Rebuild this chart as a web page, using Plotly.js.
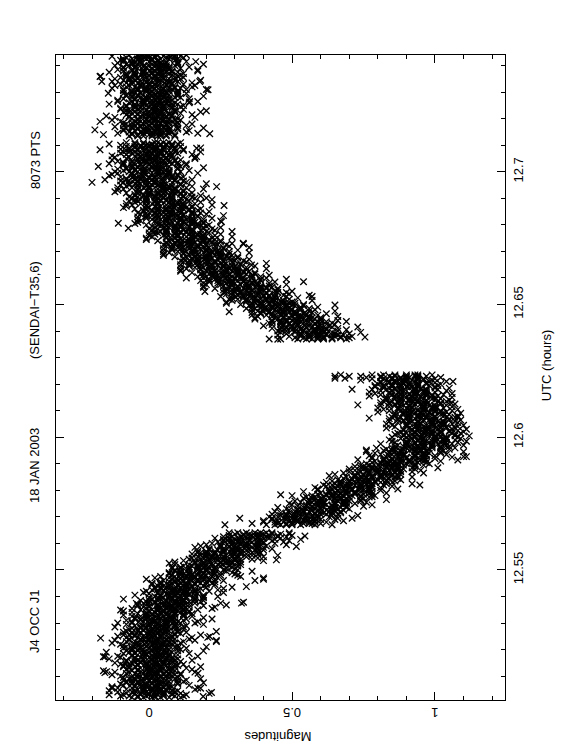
<!DOCTYPE html>
<html>
<head>
<meta charset="utf-8">
<script src="https://cdn.plot.ly/plotly-3.0.1.min.js"></script>
<style>html,body{margin:0;padding:0;background:#fff;}#chart{width:562px;height:756px;}</style>
</head>
<body>
<div id="chart"></div>
<script>
// Each row: [UTC (hours), magnitude, magnitude, ...]
const lowerRows = [
[12.502,-0.06,0.02,0.07,-0.02,0.11,-0.04,0.01,0.04],
[12.503,0.03,-0.09,0.00,0.08,-0.03,0.05,-0.14,0.13],
[12.504,-0.02,0.05,-0.11,0.03,0.09,-0.06,0.02,-0.01],
[12.505,0.06,-0.04,0.01,-0.08,0.04,0.16,-0.02,0.00],
[12.506,-0.05,0.08,-0.01,0.03,-0.13,0.05,0.02,-0.03],
[12.507,0.01,-0.06,0.10,-0.03,0.06,-0.01,-0.10,0.04],
[12.508,-0.08,0.04,0.00,0.07,-0.04,0.12,0.02,-0.02],
[12.509,0.05,-0.02,-0.07,0.02,0.09,-0.05,0.03,0.18],
[12.510,-0.03,0.06,0.01,-0.10,0.04,-0.01,0.08,0.00],
[12.511,0.02,-0.05,0.07,0.03,-0.08,0.11,-0.02,0.05],
[12.512,-0.16,0.01,0.04,-0.04,0.06,0.00,0.09,-0.06],
[12.513,0.04,-0.07,-0.01,0.08,0.02,-0.03,0.13,0.01],
[12.514,-0.01,0.06,-0.09,0.03,-0.04,0.07,0.00,0.10],
[12.515,0.07,-0.03,0.02,-0.06,0.05,-0.12,0.03,-0.01],
[12.516,-0.04,0.09,0.01,-0.02,0.04,0.06,-0.08,0.15],
[12.517,0.00,-0.05,0.06,0.02,-0.10,0.03,0.08,-0.03],
[12.518,0.05,-0.01,-0.06,0.10,0.01,-0.04,0.04,0.02],
[12.519,-0.07,0.03,0.08,-0.02,0.05,-0.15,0.00,0.06],
[12.520,0.02,-0.04,0.04,0.07,-0.06,0.01,0.11,-0.02],
[12.521,-0.03,0.06,-0.08,0.02,0.09,-0.01,0.04,0.20],
[12.522,0.04,-0.10,0.01,0.05,-0.03,0.08,-0.05,0.02],
[12.523,-0.05,0.02,0.07,-0.01,0.03,0.12,-0.08,0.05],
[12.524,0.06,-0.03,0.00,-0.07,0.09,0.03,-0.02,0.14],
[12.525,-0.02,0.08,-0.05,0.04,0.01,-0.11,0.06,0.02],
[12.526,0.03,-0.06,0.09,0.00,-0.03,0.05,0.11,-0.01],
[12.527,-0.08,0.05,0.02,0.07,-0.04,0.01,0.04,0.10],
[12.528,0.01,-0.03,0.06,-0.06,0.10,0.03,-0.01,0.05],
[12.529,-0.05,0.04,0.09,0.00,0.13,-0.02,0.03,0.06],
[12.530,0.06,-0.06,0.03,0.11,0.00,0.08,-0.11,0.16],
[12.531,0.01,0.08,-0.08,0.06,0.12,-0.03,0.05,0.02],
[12.532,0.09,-0.01,0.04,-0.05,0.07,0.19,0.01,0.03],
[12.533,-0.01,0.12,0.03,0.07,-0.09,0.09,0.06,0.01],
[12.534,0.05,-0.01,0.14,0.02,0.11,0.04,-0.06,0.09],
[12.535,-0.03,0.09,0.05,0.12,0.01,0.17,0.07,0.03],
[12.536,0.10,0.03,-0.02,0.07,0.14,0.00,0.08,0.23],
[12.537,0.03,0.12,0.07,-0.04,0.10,0.05,0.14,0.06],
[12.538,0.09,0.02,0.14,0.10,-0.01,0.18,0.05,0.12],
[12.539,-0.09,0.08,0.12,0.04,0.11,0.07,0.16,0.01],
[12.540,0.11,0.04,0.09,0.19,0.02,0.07,0.13,0.24],
[12.541,0.06,0.13,0.00,0.10,0.17,0.03,0.09,0.14],
[12.542,0.12,0.05,0.16,-0.01,0.09,0.21,0.08,0.11],
[12.543,0.04,0.14,0.09,0.18,0.02,0.11,0.07,0.26],
[12.544,0.15,0.07,0.12,0.03,0.19,0.10,0.05,0.13],
[12.545,0.08,0.18,0.04,0.13,0.22,0.11,0.16,0.01],
[12.546,0.17,0.09,0.21,0.12,0.05,0.15,0.26,0.10],
[12.547,0.07,0.16,0.11,0.24,0.13,0.19,0.02,0.15],
[12.548,0.11,0.20,0.15,0.25,0.08,0.17,0.13,0.31],
[12.549,0.07,0.19,0.23,0.14,0.29,0.11,0.25,0.17],
[12.550,0.18,0.26,0.14,0.31,0.17,0.09,0.23,0.20],
[12.551,0.23,0.14,0.19,0.11,0.29,0.17,0.21,0.08],
[12.552,0.28,0.19,0.14,0.24,0.09,0.26,0.32,0.17],
[12.553,0.19,0.28,0.32,0.16,0.25,0.09,0.21,0.29],
[12.554,0.14,0.26,0.30,0.21,0.36,0.18,0.32,0.24],
[12.555,0.20,0.29,0.24,0.34,0.17,0.26,0.22,0.40],
[12.556,0.34,0.25,0.20,0.30,0.15,0.32,0.38,0.23],
[12.557,0.32,0.23,0.28,0.20,0.38,0.26,0.30,0.17],
[12.558,0.30,0.38,0.26,0.43,0.29,0.21,0.35,0.32],
[12.559,0.28,0.37,0.41,0.25,0.34,0.18,0.30,0.38],
[12.560,0.22,0.34,0.38,0.29,0.44,0.26,0.40,0.32],
[12.561,0.29,0.38,0.33,0.43,0.26,0.35,0.31,0.49],
[12.562,0.42,0.33,0.28,0.38,0.23,0.40,0.46,0.31],
[12.563,0.37,0.45,0.33,0.50,0.36,0.28,0.42,0.39],
[12.564,0.43,0.34,0.39,0.31,0.49,0.37,0.41,0.28],
[12.567,0.44,0.53,0.48,0.58,0.41,0.50,0.46,0.64],
[12.568,0.40,0.52,0.56,0.47,0.62,0.44,0.58,0.50],
[12.569,0.52,0.60,0.48,0.65,0.51,0.43,0.57,0.54],
[12.570,0.57,0.48,0.53,0.45,0.63,0.51,0.55,0.42],
[12.571,0.62,0.53,0.48,0.58,0.43,0.60,0.66,0.51],
[12.572,0.54,0.63,0.67,0.51,0.60,0.44,0.56,0.64],
[12.573,0.48,0.60,0.64,0.55,0.70,0.52,0.66,0.58],
[12.574,0.55,0.64,0.59,0.69,0.52,0.61,0.57,0.75],
[12.575,0.59,0.68,0.72,0.56,0.65,0.49,0.61,0.69],
[12.576,0.70,0.61,0.56,0.66,0.51,0.68,0.74,0.59],
[12.577,0.69,0.60,0.65,0.57,0.75,0.63,0.67,0.54],
[12.578,0.66,0.74,0.62,0.79,0.65,0.57,0.71,0.68],
[12.579,0.63,0.72,0.67,0.77,0.60,0.69,0.65,0.83],
[12.580,0.59,0.71,0.75,0.66,0.81,0.63,0.77,0.69],
[12.581,0.68,0.77,0.81,0.65,0.74,0.58,0.70,0.78],
[12.582,0.76,0.67,0.72,0.64,0.82,0.70,0.74,0.61],
[12.583,0.81,0.72,0.67,0.77,0.62,0.79,0.85,0.70],
[12.584,0.75,0.83,0.71,0.88,0.74,0.66,0.80,0.77],
[12.585,0.72,0.81,0.76,0.86,0.69,0.78,0.74,0.92],
[12.586,0.75,0.84,0.88,0.72,0.81,0.65,0.77,0.85],
[12.587,0.70,0.82,0.86,0.77,0.92,0.74,0.88,0.80],
[12.588,0.89,0.80,0.75,0.85,0.70,0.87,0.93,0.78],
[12.589,0.87,0.78,0.83,0.75,0.93,0.81,0.85,0.72],
[12.590,0.85,0.93,0.81,0.98,0.84,0.76,0.90,0.87],
[12.591,0.82,0.91,0.86,0.96,0.79,0.88,0.84,1.02],
[12.592,0.78,0.90,0.94,0.85,1.00,0.82,0.96,0.88],
[12.593,0.87,0.96,1.00,0.84,0.93,0.77,0.89,0.97],
[12.594,0.98,0.89,0.84,0.94,0.79,0.96,1.02,0.87],
[12.595,0.97,0.88,0.93,0.85,1.03,0.91,0.95,0.82],
[12.596,0.94,1.02,0.90,1.07,0.93,0.85,0.99,0.96],
[12.597,0.90,0.99,0.94,1.04,0.87,0.96,0.92,1.10],
[12.598,0.86,0.98,1.02,0.93,1.08,0.90,1.04,0.96],
[12.599,0.94,1.03,1.07,0.91,1.00,0.84,0.96,1.04],
[12.600,1.04,0.95,0.90,1.00,0.85,1.02,1.08,0.93],
[12.601,1.01,0.92,0.97,0.89,1.07,0.95,0.99,0.86],
[12.602,0.97,1.05,0.93,1.10,0.96,0.88,1.02,0.99],
[12.603,0.92,1.01,0.96,1.06,0.89,0.98,0.94,1.11],
[12.604,0.86,0.98,1.02,0.93,1.08,0.90,1.04,0.96],
[12.605,0.93,1.02,1.06,0.90,0.99,0.83,0.95,1.03],
[12.606,1.03,0.94,0.89,0.99,0.84,1.01,1.07,0.92],
[12.607,0.99,0.90,0.95,0.87,1.05,0.93,0.97,0.84],
[12.608,0.95,1.03,0.91,1.08,0.94,0.86,1.00,0.97],
[12.609,0.89,0.98,0.93,1.03,0.86,0.95,0.91,1.09],
[12.610,0.84,0.96,1.00,0.91,1.06,0.88,1.02,0.94],
[12.611,0.90,0.99,1.03,0.87,0.96,0.80,0.92,1.00],
[12.612,1.00,0.91,0.86,0.96,0.81,0.98,1.04,0.89],
[12.613,0.96,0.87,0.92,0.84,1.02,0.90,0.94,0.81],
[12.614,0.92,1.00,0.88,1.05,0.91,0.83,0.97,0.94],
[12.615,0.86,0.95,0.90,1.00,0.83,0.92,0.88,1.06],
[12.616,0.81,0.93,0.97,0.88,1.03,0.85,0.99,0.91],
[12.617,0.87,0.96,1.00,0.84,0.93,0.77,0.89,0.97],
[12.618,0.97,0.88,0.83,0.93,0.78,0.95,1.01,0.86],
[12.619,0.94,0.85,0.90,0.82,1.00,0.88,0.92,0.79],
[12.620,0.89,0.97,0.85,1.02,0.88,0.80,0.94,0.91],
[12.621,0.84,0.93,0.88,0.98,0.81,0.90,0.86,1.04],
[12.622,0.78,0.90,0.94,0.85,1.00,0.82,0.96,0.88],
[12.623,0.84,0.93,0.97,0.81,0.90,0.74,0.86,0.94,0.65,0.70]
];

const lowerRowsB = [
[12.5025,0.02,-0.07,0.05,-0.01,0.09,-0.04,0.12,-0.10],
[12.5035,0.05,-0.03,0.08,-0.08,0.02,0.11,-0.05,0.00],
[12.5045,0.08,-0.05,0.01,0.04,-0.14,0.06,-0.02,0.10],
[12.5055,-0.06,0.03,-0.02,0.07,-0.11,0.01,0.04,0.17],
[12.5065,-0.01,0.06,-0.09,0.03,0.07,-0.05,0.14,-0.02],
[12.5075,-0.04,0.10,-0.06,0.01,0.05,-0.08,0.03,0.19],
[12.5085,0.03,-0.06,0.06,0.00,0.10,-0.03,0.13,-0.09],
[12.5095,0.04,-0.04,0.07,-0.09,0.01,0.10,-0.06,-0.01],
[12.5105,0.09,-0.04,0.02,0.05,-0.13,0.07,-0.01,0.11],
[12.5115,-0.07,0.02,-0.03,0.06,-0.12,0.00,0.03,0.16],
[12.5125,0.00,0.07,-0.08,0.04,0.08,-0.04,0.15,-0.01],
[12.5135,-0.05,0.09,-0.07,0.00,0.04,-0.09,0.02,0.18],
[12.5145,0.02,-0.07,0.05,-0.01,0.09,-0.04,0.12,-0.10],
[12.5155,0.05,-0.03,0.08,-0.08,0.02,0.11,-0.05,0.00],
[12.5165,0.08,-0.05,0.01,0.04,-0.14,0.06,-0.02,0.10],
[12.5175,-0.06,0.03,-0.02,0.07,-0.11,0.01,0.04,0.17],
[12.5185,-0.01,0.06,-0.09,0.03,0.07,-0.05,0.14,-0.02],
[12.5195,-0.04,0.10,-0.06,0.01,0.05,-0.08,0.03,0.19],
[12.5205,0.03,-0.06,0.06,0.00,0.10,-0.03,0.13,-0.09],
[12.5215,0.04,-0.04,0.07,-0.09,0.01,0.10,-0.06,-0.01],
[12.5225,0.09,-0.04,0.02,0.05,-0.13,0.07,-0.01,0.11],
[12.5235,-0.07,0.02,-0.03,0.06,-0.12,0.00,0.03,0.16],
[12.5245,0.00,0.07,-0.08,0.04,0.08,-0.04,0.15,-0.01],
[12.5255,-0.05,0.09,-0.07,0.00,0.04,-0.09,0.02,0.18],
[12.5265,0.03,-0.06,0.06,0.00,0.10,-0.03,0.13,-0.09],
[12.5275,0.06,-0.02,0.09,-0.07,0.03,0.12,-0.04,0.01],
[12.5285,0.09,-0.03,0.02,0.05,-0.12,0.07,-0.01,0.12],
[12.5295,-0.03,0.05,0.00,0.09,-0.08,0.03,0.06,0.19],
[12.5305,0.02,0.09,-0.06,0.06,0.10,-0.02,0.17,0.01],
[12.5315,-0.01,0.13,-0.03,0.04,0.08,-0.05,0.06,0.22],
[12.5325,0.05,-0.03,0.08,0.02,0.12,-0.01,0.15,-0.06],
[12.5335,0.09,0.01,0.12,-0.04,0.06,0.15,-0.01,0.04],
[12.5345,0.12,0.00,0.05,0.08,-0.09,0.10,0.03,0.14],
[12.5355,-0.01,0.08,0.03,0.12,-0.06,0.06,0.09,0.22],
[12.5365,0.05,0.11,-0.04,0.08,0.12,0.00,0.19,0.03],
[12.5375,0.02,0.16,0.00,0.07,0.11,-0.02,0.09,0.25],
[12.5385,0.09,0.00,0.12,0.06,0.16,0.03,0.19,-0.03],
[12.5395,0.13,0.05,0.16,0.00,0.10,0.19,0.03,0.08],
[12.5405,0.16,0.04,0.09,0.12,-0.05,0.14,0.07,0.19],
[12.5415,0.03,0.12,0.07,0.16,-0.02,0.10,0.13,0.26],
[12.5425,0.09,0.16,0.01,0.13,0.17,0.05,0.24,0.08],
[12.5435,0.06,0.20,0.04,0.11,0.15,0.02,0.13,0.29],
[12.5445,0.13,0.04,0.16,0.10,0.20,0.07,0.23,0.01],
[12.5455,0.17,0.09,0.20,0.04,0.14,0.23,0.07,0.12],
[12.5465,0.21,0.08,0.14,0.17,-0.01,0.19,0.11,0.23],
[12.5475,0.09,0.18,0.13,0.22,0.04,0.16,0.19,0.32],
[12.5485,0.15,0.22,0.07,0.19,0.23,0.11,0.30,0.14],
[12.5495,0.13,0.27,0.11,0.18,0.22,0.09,0.20,0.36],
[12.5505,0.20,0.11,0.23,0.17,0.27,0.14,0.30,0.08],
[12.5515,0.25,0.17,0.28,0.12,0.22,0.31,0.15,0.20],
[12.5525,0.29,0.16,0.22,0.25,0.07,0.27,0.19,0.31],
[12.5535,0.17,0.26,0.21,0.30,0.12,0.24,0.27,0.40],
[12.5545,0.23,0.30,0.15,0.27,0.31,0.19,0.38,0.22],
[12.5555,0.22,0.36,0.20,0.27,0.31,0.18,0.29,0.45],
[12.5565,0.29,0.20,0.32,0.26,0.36,0.23,0.39,0.17],
[12.5575,0.34,0.26,0.37,0.21,0.31,0.40,0.24,0.29],
[12.5585,0.38,0.25,0.31,0.34,0.16,0.36,0.28,0.40],
[12.5595,0.25,0.34,0.29,0.38,0.20,0.32,0.35,0.48],
[12.5605,0.32,0.39,0.24,0.36,0.40,0.28,0.47,0.31],
[12.5615,0.30,0.44,0.28,0.35,0.39,0.26,0.37,0.53],
[12.5625,0.38,0.29,0.41,0.35,0.45,0.32,0.48,0.26],
[12.5635,0.43,0.35,0.46,0.30,0.40,0.49,0.33,0.38],
[12.5675,0.57,0.45,0.50,0.54,0.36,0.56,0.48,0.60],
[12.5685,0.45,0.54,0.49,0.58,0.40,0.52,0.55,0.68],
[12.5695,0.51,0.58,0.43,0.55,0.59,0.47,0.66,0.50],
[12.5705,0.50,0.64,0.48,0.55,0.59,0.46,0.57,0.73],
[12.5715,0.58,0.49,0.61,0.54,0.64,0.52,0.67,0.46],
[12.5725,0.62,0.54,0.65,0.49,0.59,0.68,0.52,0.57],
[12.5735,0.67,0.54,0.60,0.63,0.45,0.65,0.57,0.69],
[12.5745,0.55,0.64,0.59,0.68,0.50,0.62,0.65,0.78],
[12.5755,0.61,0.68,0.53,0.65,0.69,0.57,0.76,0.60],
[12.5765,0.60,0.74,0.58,0.65,0.69,0.56,0.67,0.83],
[12.5775,0.67,0.58,0.70,0.64,0.74,0.61,0.77,0.55],
[12.5785,0.72,0.64,0.75,0.59,0.69,0.78,0.62,0.67],
[12.5795,0.76,0.63,0.69,0.72,0.54,0.74,0.66,0.78],
[12.5805,0.64,0.73,0.68,0.77,0.59,0.71,0.74,0.87],
[12.5815,0.70,0.77,0.62,0.74,0.78,0.66,0.85,0.69],
[12.5825,0.69,0.83,0.67,0.74,0.78,0.65,0.76,0.92],
[12.5835,0.76,0.67,0.79,0.73,0.83,0.70,0.86,0.64],
[12.5845,0.81,0.73,0.84,0.68,0.78,0.87,0.71,0.76],
[12.5855,0.85,0.72,0.78,0.81,0.63,0.83,0.75,0.87],
[12.5865,0.73,0.82,0.77,0.86,0.68,0.80,0.83,0.96],
[12.5875,0.80,0.87,0.72,0.84,0.88,0.76,0.95,0.79],
[12.5885,0.78,0.92,0.76,0.83,0.87,0.74,0.85,1.01],
[12.5895,0.86,0.77,0.89,0.83,0.93,0.80,0.96,0.74],
[12.5905,0.91,0.83,0.94,0.78,0.88,0.97,0.81,0.86],
[12.5915,0.95,0.82,0.88,0.91,0.73,0.93,0.85,0.97],
[12.5925,0.83,0.92,0.87,0.96,0.78,0.90,0.93,1.06],
[12.5935,0.89,0.96,0.81,0.93,0.97,0.85,1.04,0.88],
[12.5945,0.88,1.02,0.86,0.93,0.97,0.84,0.95,1.10],
[12.5955,0.95,0.86,0.98,0.92,1.02,0.89,1.05,0.83],
[12.5965,0.99,0.91,1.02,0.86,0.96,1.05,0.89,0.94],
[12.5975,1.03,0.90,0.96,0.99,0.81,1.01,0.93,1.06],
[12.5985,0.90,0.99,0.94,1.03,0.85,0.97,1.00,1.11],
[12.5995,0.96,1.03,0.88,1.00,1.04,0.92,1.09,0.95],
[12.6005,0.93,1.07,0.91,0.98,1.02,0.89,1.00,1.12],
[12.6015,0.99,0.90,1.02,0.96,1.06,0.93,1.09,0.87],
[12.6025,1.02,0.94,1.05,0.89,0.99,1.08,0.92,0.97],
[12.6035,1.04,0.91,0.97,1.00,0.83,1.02,0.94,1.07],
[12.6045,0.90,0.99,0.94,1.03,0.85,0.97,1.00,1.10],
[12.6055,0.95,1.02,0.87,0.99,1.03,0.91,1.08,0.94],
[12.6065,0.91,1.05,0.89,0.96,1.00,0.87,0.98,1.09],
[12.6075,0.97,0.88,1.00,0.94,1.04,0.91,1.07,0.85],
[12.6085,0.99,0.91,1.02,0.86,0.96,1.05,0.89,0.94],
[12.6095,1.02,0.89,0.95,0.98,0.80,1.00,0.92,1.04],
[12.6105,0.87,0.96,0.91,1.00,0.82,0.94,0.97,1.08],
[12.6115,0.92,0.99,0.84,0.96,1.00,0.88,1.06,0.91],
[12.6125,0.88,1.02,0.86,0.93,0.97,0.84,0.95,1.07],
[12.6135,0.94,0.85,0.97,0.91,1.01,0.88,1.04,0.82],
[12.6145,0.96,0.88,0.99,0.83,0.93,1.02,0.86,0.91],
[12.6155,0.99,0.86,0.92,0.95,0.77,0.97,0.89,1.01],
[12.6165,0.84,0.93,0.88,0.97,0.79,0.91,0.94,1.06],
[12.6175,0.89,0.96,0.81,0.93,0.97,0.85,1.04,0.88],
[12.6185,0.86,1.00,0.84,0.91,0.95,0.82,0.93,1.05],
[12.6195,0.91,0.82,0.94,0.88,0.98,0.85,1.01,0.79],
[12.6205,0.94,0.86,0.97,0.81,0.91,1.00,0.84,0.89],
[12.6215,0.96,0.83,0.89,0.92,0.74,0.94,0.86,0.99],
[12.6225,0.81,0.90,0.85,0.94,0.76,0.88,0.91,1.02],
[12.6235,0.86,0.93,0.78,0.90,0.94,0.82,0.99,0.67]
];

const upperRows = [
[12.637,0.55,0.64,0.59,0.69,0.52,0.61,0.57,0.42,0.46],
[12.638,0.49,0.61,0.65,0.56,0.71,0.53,0.67,0.59],
[12.639,0.58,0.65,0.53,0.70,0.56,0.48,0.62,0.59],
[12.640,0.60,0.51,0.56,0.48,0.66,0.54,0.58,0.45],
[12.641,0.62,0.53,0.48,0.58,0.43,0.60,0.66,0.51],
[12.642,0.50,0.59,0.63,0.47,0.56,0.40,0.52,0.60],
[12.643,0.42,0.54,0.58,0.49,0.64,0.46,0.60,0.52],
[12.644,0.46,0.55,0.50,0.60,0.43,0.52,0.48,0.66],
[12.645,0.47,0.56,0.60,0.44,0.53,0.37,0.49,0.57],
[12.646,0.55,0.46,0.41,0.51,0.36,0.53,0.59,0.44],
[12.647,0.51,0.42,0.47,0.39,0.57,0.45,0.49,0.36],
[12.648,0.45,0.53,0.41,0.58,0.44,0.36,0.50,0.47],
[12.649,0.39,0.48,0.43,0.53,0.36,0.45,0.41,0.59],
[12.650,0.32,0.44,0.48,0.39,0.54,0.36,0.50,0.42],
[12.651,0.37,0.46,0.50,0.34,0.43,0.27,0.39,0.47],
[12.652,0.43,0.34,0.39,0.31,0.49,0.37,0.41,0.28],
[12.653,0.44,0.35,0.30,0.40,0.25,0.42,0.48,0.33],
[12.654,0.36,0.44,0.32,0.49,0.35,0.27,0.41,0.38],
[12.655,0.30,0.39,0.34,0.44,0.27,0.36,0.32,0.50],
[12.656,0.23,0.35,0.39,0.30,0.45,0.27,0.41,0.33],
[12.657,0.29,0.38,0.42,0.26,0.35,0.19,0.31,0.39],
[12.658,0.38,0.29,0.24,0.34,0.19,0.36,0.42,0.27],
[12.659,0.33,0.24,0.29,0.21,0.39,0.27,0.31,0.18],
[12.660,0.28,0.36,0.24,0.41,0.27,0.19,0.33,0.30],
[12.661,0.22,0.31,0.26,0.36,0.19,0.28,0.24,0.42],
[12.662,0.15,0.27,0.31,0.22,0.37,0.19,0.33,0.25],
[12.663,0.21,0.30,0.34,0.18,0.27,0.11,0.23,0.31],
[12.664,0.30,0.21,0.16,0.26,0.11,0.28,0.34,0.19],
[12.665,0.26,0.17,0.22,0.14,0.32,0.20,0.24,0.11],
[12.666,0.21,0.29,0.17,0.34,0.20,0.12,0.26,0.23],
[12.667,0.15,0.24,0.19,0.29,0.12,0.21,0.17,0.35],
[12.668,0.09,0.21,0.25,0.16,0.31,0.13,0.27,0.19],
[12.669,0.15,0.24,0.28,0.12,0.21,0.05,0.17,0.25],
[12.670,0.24,0.15,0.10,0.20,0.05,0.22,0.28,0.13],
[12.671,0.20,0.11,0.16,0.08,0.26,0.14,0.18,0.05],
[12.672,0.15,0.23,0.11,0.28,0.14,0.06,0.20,0.17],
[12.673,0.09,0.18,0.13,0.23,0.06,0.15,0.11,0.29],
[12.674,0.03,0.15,0.19,0.10,0.25,0.07,0.21,0.13],
[12.675,0.09,0.18,0.22,0.06,0.15,-0.01,0.11,0.19],
[12.676,0.19,0.10,0.05,0.15,0.00,0.17,0.23,0.08],
[12.677,0.15,0.06,0.11,0.03,0.21,0.09,0.13,0.00],
[12.678,0.10,0.18,0.06,0.23,0.09,0.01,0.15,0.12],
[12.679,0.05,0.14,0.09,0.19,0.02,0.11,0.07,0.25],
[12.680,-0.01,0.11,0.15,0.06,0.21,0.03,0.17,0.09],
[12.681,0.06,0.15,0.19,0.03,0.12,-0.04,0.08,0.16],
[12.682,0.15,0.06,0.01,0.11,-0.04,0.13,0.19,0.04],
[12.683,0.11,0.02,0.07,-0.01,0.17,0.05,0.09,-0.04],
[12.684,0.07,0.15,0.03,0.20,0.06,-0.03,0.12,0.09],
[12.685,0.01,0.10,0.05,0.15,-0.02,0.07,0.03,0.21],
[12.686,-0.05,0.08,0.12,0.03,0.18,-0.01,0.14,0.06],
[12.687,0.02,0.11,0.15,-0.01,0.08,-0.08,0.04,0.12],
[12.688,0.12,0.03,-0.03,0.08,-0.08,0.10,0.16,0.01],
[12.689,0.08,-0.01,0.04,-0.04,0.14,0.02,0.06,-0.07],
[12.690,0.03,0.11,-0.01,0.16,0.02,-0.06,0.08,0.05],
[12.691,-0.02,0.07,0.02,0.12,-0.05,0.04,0.00,0.18],
[12.692,-0.08,0.05,0.09,0.00,0.15,-0.04,0.11,0.03],
[12.693,-0.01,0.08,0.12,-0.04,0.05,-0.11,0.01,0.09],
[12.694,0.09,0.00,-0.06,0.05,-0.11,0.07,0.13,-0.02],
[12.695,0.05,-0.04,0.01,-0.07,0.11,-0.01,0.03,-0.10],
[12.696,0.00,0.08,-0.04,0.13,-0.01,-0.09,0.05,0.02,-0.20],
[12.697,-0.05,0.04,-0.01,0.09,-0.08,0.01,-0.03,0.15],
[12.698,-0.10,0.02,0.06,-0.03,0.12,-0.06,0.08,0.00],
[12.699,-0.03,0.06,0.10,-0.06,0.03,-0.13,-0.01,0.07],
[12.700,0.07,-0.02,-0.07,0.03,-0.12,0.05,0.11,-0.04],
[12.701,0.04,-0.05,0.00,-0.08,0.10,-0.02,0.02,-0.11],
[12.702,-0.06,0.02,0.07,-0.02,0.11,-0.04,0.01,0.04],
[12.703,0.03,-0.09,0.00,0.08,-0.03,0.05,-0.14,0.13],
[12.704,-0.02,0.05,-0.11,0.03,0.09,-0.06,0.02,-0.01],
[12.705,0.06,-0.04,0.01,-0.08,0.04,0.16,-0.02,0.00],
[12.706,-0.05,0.08,-0.01,0.03,-0.13,0.05,0.02,-0.03],
[12.707,0.01,-0.06,0.10,-0.03,0.06,-0.01,-0.10,0.04],
[12.708,-0.08,0.04,0.00,0.07,-0.04,0.12,0.02,-0.02],
[12.709,0.05,-0.02,-0.07,0.02,0.09,-0.05,0.03,0.18],
[12.710,-0.03,0.06,0.01,-0.10,0.04,-0.01,0.08,0.00],
[12.711,0.02,-0.05,0.07,0.03,-0.08,0.11,-0.02,0.05],
[12.714,-0.16,0.01,0.04,-0.04,0.06,0.00,0.09,-0.06],
[12.715,0.04,-0.07,-0.01,0.08,0.02,-0.03,0.13,0.01],
[12.716,-0.01,0.06,-0.09,0.03,-0.04,0.07,0.00,0.10],
[12.717,0.07,-0.03,0.02,-0.06,0.05,-0.12,0.03,-0.01],
[12.718,-0.04,0.09,0.01,-0.02,0.04,0.06,-0.08,0.15],
[12.719,0.00,-0.05,0.06,0.02,-0.10,0.03,0.08,-0.03],
[12.720,0.05,-0.01,-0.06,0.10,0.01,-0.04,0.04,0.02],
[12.721,-0.07,0.03,0.08,-0.02,0.05,-0.15,0.00,0.06],
[12.722,0.02,-0.04,0.04,0.07,-0.06,0.01,0.11,-0.02],
[12.723,-0.03,0.06,-0.08,0.02,0.09,-0.01,0.04,0.20],
[12.724,0.04,-0.10,0.01,0.05,-0.03,0.08,-0.05,0.02],
[12.725,-0.05,0.02,0.07,-0.01,0.03,0.12,-0.08,0.05],
[12.726,0.06,-0.03,0.00,-0.07,0.09,0.03,-0.02,0.14],
[12.727,-0.02,0.08,-0.05,0.04,0.01,-0.11,0.06,0.02],
[12.728,0.03,-0.06,0.09,0.00,-0.03,0.05,0.11,-0.01],
[12.729,-0.08,0.05,0.02,0.07,-0.04,0.01,0.04,0.10],
[12.730,0.01,-0.03,0.06,-0.06,0.10,0.03,-0.01,0.05],
[12.731,0.00,0.08,-0.04,0.13,-0.01,-0.09,0.05,0.20],
[12.732,-0.05,0.04,-0.01,0.09,-0.08,0.01,-0.03,0.15],
[12.733,-0.10,0.02,0.06,-0.03,0.12,-0.06,0.08,0.00],
[12.734,-0.03,0.06,0.10,-0.06,0.03,-0.13,-0.01,0.07],
[12.735,0.07,-0.02,-0.07,0.03,-0.12,0.05,0.11,-0.04],
[12.736,0.04,-0.05,0.00,-0.08,0.10,-0.02,0.02,-0.17],
[12.737,0.01,0.07,-0.05,0.12,-0.02,-0.08,0.04,0.03],
[12.738,-0.06,0.05,0.00,0.08,-0.09,0.02,-0.02,0.17],
[12.739,-0.09,0.03,0.05,-0.04,0.11,-0.05,0.07,0.01],
[12.740,-0.02,0.05,0.09,-0.07,0.04,-0.12,0.00,0.06],
[12.741,0.06,-0.03,-0.06,0.02,-0.11,0.04,0.10,-0.05],
[12.742,0.03,-0.04,0.01,-0.09,0.09,-0.03,0.01,-0.10],
[12.743,0.00,0.09,-0.03,0.12,-0.02,-0.08,0.06,0.02],
[12.744,-0.04,0.03,-0.02,0.08,-0.07,0.00,-0.03,0.13]
];

const upperRowsB = [
[12.6375,0.64,0.56,0.67,0.51,0.61,0.70,0.54,0.59],
[12.6385,0.66,0.53,0.59,0.62,0.45,0.64,0.56,0.68],
[12.6395,0.51,0.60,0.55,0.64,0.46,0.58,0.61,0.74],
[12.6405,0.54,0.61,0.46,0.58,0.62,0.50,0.69,0.53],
[12.6415,0.50,0.64,0.48,0.55,0.59,0.46,0.57,0.73],
[12.6425,0.55,0.46,0.58,0.52,0.62,0.49,0.65,0.43],
[12.6435,0.56,0.48,0.59,0.43,0.53,0.62,0.46,0.51],
[12.6445,0.58,0.45,0.51,0.54,0.37,0.56,0.48,0.60],
[12.6455,0.43,0.52,0.47,0.56,0.38,0.50,0.53,0.66],
[12.6465,0.47,0.54,0.39,0.51,0.55,0.43,0.62,0.46],
[12.6475,0.42,0.56,0.40,0.47,0.51,0.38,0.49,0.65],
[12.6485,0.46,0.37,0.49,0.43,0.53,0.40,0.56,0.34],
[12.6495,0.48,0.40,0.51,0.35,0.45,0.54,0.38,0.43],
[12.6505,0.49,0.36,0.42,0.45,0.27,0.47,0.39,0.51],
[12.6515,0.34,0.43,0.38,0.47,0.29,0.41,0.44,0.57],
[12.6525,0.37,0.44,0.29,0.41,0.45,0.33,0.52,0.36],
[12.6535,0.33,0.47,0.31,0.38,0.42,0.29,0.40,0.56],
[12.6545,0.38,0.29,0.41,0.35,0.45,0.32,0.48,0.26],
[12.6555,0.39,0.31,0.42,0.26,0.36,0.45,0.29,0.34],
[12.6565,0.41,0.28,0.34,0.37,0.19,0.39,0.31,0.43],
[12.6575,0.25,0.34,0.29,0.38,0.20,0.32,0.35,0.48],
[12.6585,0.29,0.36,0.21,0.33,0.37,0.25,0.44,0.28],
[12.6595,0.25,0.39,0.23,0.30,0.34,0.21,0.32,0.48],
[12.6605,0.29,0.20,0.32,0.26,0.36,0.23,0.39,0.17],
[12.6615,0.31,0.23,0.34,0.18,0.28,0.37,0.21,0.26],
[12.6625,0.33,0.20,0.26,0.29,0.11,0.31,0.23,0.35],
[12.6635,0.18,0.27,0.22,0.31,0.13,0.25,0.28,0.41],
[12.6645,0.22,0.29,0.14,0.26,0.30,0.18,0.37,0.21],
[12.6655,0.18,0.32,0.16,0.23,0.27,0.14,0.25,0.41],
[12.6665,0.23,0.14,0.26,0.20,0.30,0.17,0.33,0.11],
[12.6675,0.25,0.17,0.28,0.12,0.22,0.31,0.15,0.20],
[12.6685,0.27,0.14,0.20,0.23,0.05,0.25,0.17,0.29],
[12.6695,0.12,0.21,0.16,0.25,0.07,0.19,0.22,0.35],
[12.6705,0.16,0.23,0.08,0.20,0.24,0.12,0.31,0.15],
[12.6715,0.12,0.26,0.10,0.17,0.21,0.08,0.19,0.35],
[12.6725,0.17,0.08,0.20,0.14,0.24,0.11,0.27,0.05],
[12.6735,0.19,0.11,0.22,0.06,0.16,0.25,0.09,0.14],
[12.6745,0.21,0.08,0.14,0.17,-0.01,0.19,0.11,0.23],
[12.6755,0.06,0.15,0.10,0.19,0.01,0.13,0.16,0.29],
[12.6765,0.10,0.17,0.02,0.14,0.18,0.06,0.25,0.09],
[12.6775,0.06,0.20,0.04,0.11,0.15,0.02,0.13,0.29],
[12.6785,0.12,0.03,0.15,0.09,0.19,0.06,0.22,0.00],
[12.6795,0.14,0.06,0.17,0.01,0.11,0.20,0.04,0.09],
[12.6805,0.17,0.04,0.10,0.13,-0.05,0.15,0.07,0.19],
[12.6815,0.02,0.11,0.06,0.15,-0.03,0.09,0.12,0.25],
[12.6825,0.07,0.14,-0.01,0.11,0.15,0.03,0.22,0.06],
[12.6835,0.03,0.17,0.01,0.08,0.12,-0.01,0.10,0.26],
[12.6845,0.08,-0.01,0.11,0.05,0.15,0.02,0.18,-0.04],
[12.6855,0.11,0.03,0.14,-0.02,0.08,0.17,0.01,0.06],
[12.6865,0.13,0.00,0.06,0.09,-0.09,0.11,0.03,0.15],
[12.6875,-0.01,0.08,0.03,0.12,-0.06,0.06,0.09,0.22],
[12.6885,0.03,0.10,-0.05,0.07,0.11,-0.01,0.18,0.02],
[12.6895,-0.01,0.13,-0.03,0.04,0.08,-0.05,0.06,0.22],
[12.6905,0.05,-0.04,0.08,0.02,0.12,-0.01,0.15,-0.07],
[12.6915,0.08,0.00,0.11,-0.05,0.05,0.14,-0.02,0.03],
[12.6925,0.10,-0.03,0.03,0.06,-0.12,0.08,0.00,0.12],
[12.6935,-0.04,0.05,0.00,0.09,-0.09,0.03,0.06,0.19],
[12.6945,0.00,0.07,-0.08,0.04,0.08,-0.04,0.15,-0.01],
[12.6955,-0.03,0.11,-0.05,0.02,0.06,-0.07,0.04,0.20],
[12.6965,0.02,-0.07,0.05,-0.01,0.09,-0.04,0.12,-0.10],
[12.6975,0.05,-0.03,0.08,-0.08,0.02,0.11,-0.05,0.00],
[12.6985,0.08,-0.05,0.01,0.04,-0.14,0.06,-0.02,0.10],
[12.6995,-0.06,0.03,-0.02,0.07,-0.11,0.01,0.04,0.17],
[12.7005,-0.01,0.06,-0.09,0.03,0.07,-0.05,0.14,-0.02],
[12.7015,-0.04,0.10,-0.06,0.01,0.05,-0.08,0.03,0.19],
[12.7025,0.03,-0.06,0.06,0.00,0.10,-0.03,0.13,-0.09],
[12.7035,0.04,-0.04,0.07,-0.09,0.01,0.10,-0.06,-0.01],
[12.7045,0.09,-0.04,0.02,0.05,-0.13,0.07,-0.01,0.11],
[12.7055,-0.07,0.02,-0.03,0.06,-0.12,0.00,0.03,0.16],
[12.7065,0.00,0.07,-0.08,0.04,0.08,-0.04,0.15,-0.01],
[12.7075,-0.05,0.09,-0.07,0.00,0.04,-0.09,0.02,0.18],
[12.7085,0.02,-0.07,0.05,-0.01,0.09,-0.04,0.12,-0.10],
[12.7095,0.05,-0.03,0.08,-0.08,0.02,0.11,-0.05,0.00],
[12.7105,0.08,-0.05,0.01,0.04,-0.14,0.06,-0.02,0.10],
[12.7135,0.01,-0.04,0.06,-0.07,0.03,0.09,-0.02,0.04],
[12.7145,-0.06,0.03,-0.02,0.07,-0.11,0.01,0.04,0.17],
[12.7155,-0.01,0.06,-0.09,0.03,0.07,-0.05,0.14,-0.02],
[12.7165,-0.04,0.10,-0.06,0.01,0.05,-0.08,0.03,0.19],
[12.7175,0.03,-0.06,0.06,0.00,0.10,-0.03,0.13,-0.09],
[12.7185,0.04,-0.04,0.07,-0.09,0.01,0.10,-0.06,-0.01],
[12.7195,0.09,-0.04,0.02,0.05,-0.13,0.07,-0.01,0.11],
[12.7205,-0.07,0.02,-0.03,0.06,-0.12,0.00,0.03,0.16],
[12.7215,0.00,0.07,-0.08,0.04,0.08,-0.04,0.15,-0.01],
[12.7225,-0.05,0.09,-0.07,0.00,0.04,-0.09,0.02,0.18],
[12.7235,0.02,-0.07,0.05,-0.01,0.09,-0.04,0.12,-0.10],
[12.7245,0.05,-0.03,0.08,-0.08,0.02,0.11,-0.05,0.00],
[12.7255,0.08,-0.05,0.01,0.04,-0.14,0.06,-0.02,0.10],
[12.7265,-0.06,0.03,-0.02,0.07,-0.11,0.01,0.04,0.17],
[12.7275,-0.01,0.06,-0.09,0.03,0.07,-0.05,0.14,-0.02],
[12.7285,-0.04,0.10,-0.06,0.01,0.05,-0.08,0.03,0.19],
[12.7295,0.03,-0.06,0.06,0.00,0.10,-0.03,0.13,-0.09],
[12.7305,0.04,-0.04,0.07,-0.09,0.01,0.10,-0.06,-0.01],
[12.7315,0.09,-0.04,0.02,0.05,-0.13,0.07,-0.01,0.11],
[12.7325,-0.07,0.02,-0.03,0.06,-0.12,0.00,0.03,0.16],
[12.7335,0.00,0.07,-0.08,0.04,0.08,-0.04,0.15,-0.01],
[12.7345,-0.05,0.09,-0.07,0.00,0.04,-0.09,0.02,0.18],
[12.7355,0.02,-0.07,0.05,-0.01,0.09,-0.04,0.12,-0.10],
[12.7365,0.05,-0.03,0.08,-0.08,0.02,0.11,-0.05,0.00],
[12.7375,0.08,-0.05,0.01,0.04,-0.14,0.06,-0.02,0.10],
[12.7385,-0.06,0.03,-0.02,0.07,-0.11,0.01,0.04,0.17],
[12.7395,-0.01,0.06,-0.09,0.03,0.07,-0.05,0.14,-0.02],
[12.7405,-0.04,0.10,-0.06,0.01,0.05,-0.08,0.03,0.19],
[12.7415,0.03,-0.06,0.06,0.00,0.10,-0.03,0.13,-0.09],
[12.7425,0.04,-0.04,0.07,-0.09,0.01,0.10,-0.06,-0.01],
[12.7435,0.09,-0.04,0.02,0.05,-0.13,0.07,-0.01,0.11]
];

// Scattered outlying points
const outlierUtc = [12.5349,12.5243,12.5173,12.5113,12.5054,12.5035,12.5054,12.5268,12.5234,12.5246,
  12.5378,12.5465,12.5460,12.5437,12.5368,12.5565,12.5488,12.5374,12.5670,12.5695,
  12.5783,12.5780,12.5628,12.5588,12.5538,12.5470,12.5952,12.5959,12.5695,12.5776,
  12.5820,12.5927,12.5914,12.6728,12.6586,12.6530,12.6498,12.6436,12.6377,12.6369,
  12.6549,12.6600,12.6473,12.6222,12.6222,12.6181,12.6122,12.6072,12.5946,12.6210,
  12.6128,12.6074,12.5927,12.7359,12.7340,12.7296,12.7189,12.7158,12.7083,12.7020,
  12.6970,12.6806,12.6787,12.7309,12.7340,12.7415,12.7143,12.7089,12.7057,12.6944,
  12.6873,12.6901,12.6812,12.6731,12.6649,12.7264,12.5173,12.5117,12.5249,12.5230,
  12.5111,12.5023,12.5038,12.5375];
const outlierMag = [-0.10,-0.17,-0.155,-0.155,-0.13,0.21,0.18,0.235,0.235,0.205,
  0.33,0.40,0.37,0.34,0.27,0.18,0.07,-0.045,0.265,0.317,
  0.46,0.50,0.545,0.515,0.445,0.40,0.76,0.795,0.71,0.78,
  0.947,1.11,1.08,0.33,0.54,0.57,0.65,0.69,0.755,0.45,
  0.195,0.13,0.28,0.65,0.685,0.71,0.73,0.77,0.76,1.063,
  1.057,1.08,1.10,-0.172,-0.166,-0.143,-0.172,-0.19,-0.172,-0.178,
  -0.155,-0.108,-0.073,0.206,0.177,0.163,0.212,0.166,0.166,0.236,
  0.262,0.20,0.253,0.329,0.358,0.142,-0.16,-0.149,0.212,0.235,
  0.171,0.189,0.218,0.323];

const magTickVals = [0, 0.5, 1];
const magTickText = ['0', '0.5', '1'];
const titleParts = ['J4 OCC J1', '18 JAN 2003', '(SENDAI\u2212T35,6)', '8073 PTS'];
const titlePartPos = [0.1225, 0.3628, 0.6047, 0.8372];

const utc = [], mag = [];
[lowerRows, lowerRowsB, upperRows, upperRowsB].forEach(set => set.forEach(r => {
  for (let i = 1; i < r.length; i++) { utc.push(r[0]); mag.push(r[i]); }
}));
outlierUtc.forEach((t, i) => { utc.push(t); mag.push(outlierMag[i]); });

const FONT = 'Liberation Sans, Arial, Helvetica, sans-serif';

const trace = {
  type: 'scatter', mode: 'markers', x: mag, y: utc,
  marker: { symbol: 'x-thin', size: 6.5, color: '#000', line: { width: 1.3, color: '#000' } },
  hoverinfo: 'skip'
};

const annotations = [
  { text: 'Magnitudes', xref: 'paper', yref: 'paper', x: 0.494, y: 0, yshift: -37, textangle: 180,
    showarrow: false, xanchor: 'center', yanchor: 'middle', font: { family: FONT, size: 13, color: '#000' } },
  { text: 'UTC (hours)', xref: 'paper', yref: 'paper', x: 1, xshift: 41, y: 0.519, textangle: -90,
    showarrow: false, xanchor: 'center', yanchor: 'middle', font: { family: FONT, size: 13, color: '#000' } }
];
titleParts.forEach((t, i) => annotations.push({
  text: t, xref: 'paper', yref: 'paper', x: 0, xshift: -21, y: titlePartPos[i], textangle: -90,
  showarrow: false, xanchor: 'center', yanchor: 'middle', font: { family: FONT, size: 13, color: '#000' }
}));

const layout = {
  width: 562, height: 756,
  margin: { l: 56, r: 57, t: 55, b: 56, pad: 0 },
  paper_bgcolor: '#fff', plot_bgcolor: '#fff',
  showlegend: false,
  font: { family: FONT, size: 13, color: '#000' },
  xaxis: {
    range: [-0.326, 1.245], tickvals: magTickVals, ticktext: magTickText, tickangle: 180,
    ticks: 'inside', ticklen: 8, tickwidth: 1, tickcolor: '#000', mirror: 'allticks',
    showline: true, linecolor: '#000', linewidth: 1, showgrid: false, zeroline: false,
    ticklabelstandoff: 4,
    tickfont: { family: FONT, size: 13, color: '#000' },
    minor: { dtick: 0.1, tick0: 0, ticks: 'inside', ticklen: 4, tickwidth: 1, tickcolor: '#000', showgrid: false }
  },
  yaxis: {
    range: [12.501, 12.744], side: 'right', tick0: 12.5, dtick: 0.05, tickangle: -90,
    ticks: 'inside', ticklen: 8, tickwidth: 1, tickcolor: '#000', mirror: 'allticks',
    showline: true, linecolor: '#000', linewidth: 1, showgrid: false, zeroline: false,
    ticklabelstandoff: 1,
    tickfont: { family: FONT, size: 13, color: '#000' },
    minor: { dtick: 0.01, tick0: 12.5, ticks: 'inside', ticklen: 4, tickwidth: 1, tickcolor: '#000', showgrid: false }
  },
  annotations: annotations
};

Plotly.newPlot('chart', [trace], layout, { staticPlot: true, displayModeBar: false });
</script>
</body>
</html>
